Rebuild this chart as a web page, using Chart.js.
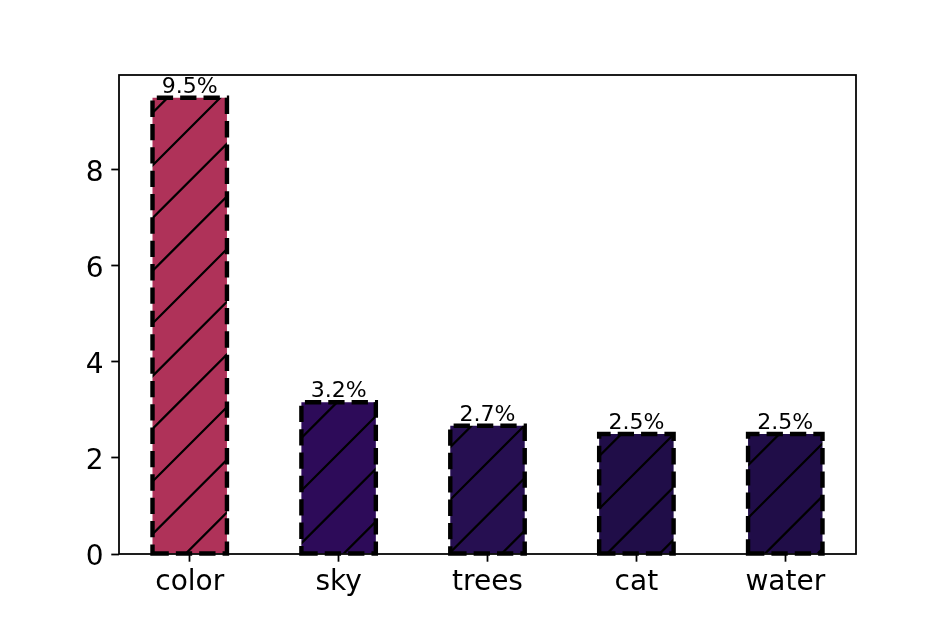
<!DOCTYPE html>
<html>
<head>
<meta charset="utf-8">
<script src="https://cdn.jsdelivr.net/npm/chart.js@4.4.0/dist/chart.umd.min.js"></script>
<style>
  html, body { margin: 0; padding: 0; background: #fff; }
  canvas { display: block; }
</style>
</head>
<body>
<canvas id="chart" width="952" height="634"></canvas>
<script>
// data
const categories = ["color", "sky", "trees", "cat", "water"];
const shares = [9.5, 3.16, 2.67, 2.5, 2.5];
const barColors = ["#af3259", "#2d0b59", "#260f51", "#200d48", "#200d48"];
const yTicks = [0, 2, 4, 6, 8];
const yLimits = [0, 9.975];
const xLimits = [-0.475, 4.475];

// figure was 6in wide, so this is the pixels-per-inch of the picture
const DPI = 952 / 6;
const pt = v => v * DPI / 72;
const FONT = '"DejaVu Sans", sans-serif';

// "/" hatch on top of the bar colour, anchored to the canvas like matplotlib does
function hatchPattern(color) {
  const size = Math.floor(DPI);
  const step = size / 3;
  const tile = document.createElement("canvas");
  tile.width = size;
  tile.height = size;
  const g = tile.getContext("2d");
  g.fillStyle = color;
  g.fillRect(0, 0, size, size);
  g.strokeStyle = "#000";
  g.lineWidth = pt(1);
  const phase = 634 % step;
  g.beginPath();
  for (let k = -1; k <= 7; k++) {
    const c = phase + k * step;
    g.moveTo(c + 10, -10);
    g.lineTo(c - size - 10, size + 10);
  }
  g.stroke();
  return g.createPattern(tile, "repeat");
}

// dashed bar edges, value labels and the axes frame
const barDecor = {
  id: "barDecor",
  afterDatasetsDraw(chart) {
    const ctx = chart.ctx;
    const meta = chart.getDatasetMeta(0);
    ctx.save();
    ctx.strokeStyle = "#000";
    ctx.lineWidth = pt(2);
    ctx.lineJoin = "miter";
    ctx.setLineDash([pt(7.4), pt(3.2)]);
    meta.data.forEach(bar => {
      const { x, y, base, width } = bar.getProps(["x", "y", "base", "width"], true);
      const l = x - width / 2, r = x + width / 2;
      ctx.beginPath();
      ctx.moveTo(l, base);
      ctx.lineTo(r, base);
      ctx.lineTo(r, y);
      ctx.lineTo(l, y);
      ctx.closePath();
      ctx.stroke();
    });
    ctx.setLineDash([]);

    ctx.fillStyle = "#000";
    ctx.font = pt(10) + "px " + FONT;
    ctx.textAlign = "center";
    ctx.textBaseline = "alphabetic";
    meta.data.forEach((bar, i) => {
      ctx.fillText(shares[i].toFixed(1) + "%", bar.x, bar.y - 5);
    });

    const a = chart.chartArea;
    ctx.lineWidth = pt(0.8);
    ctx.strokeRect(a.left, a.top, a.right - a.left, a.bottom - a.top);
    ctx.restore();
  }
};

new Chart(document.getElementById("chart"), {
  type: "bar",
  data: {
    datasets: [{
      data: shares.map((v, i) => ({ x: i, y: v })),
      backgroundColor: barColors.map(hatchPattern),
      borderWidth: 0,
      barPercentage: 0.5,
      categoryPercentage: 1.0
    }]
  },
  options: {
    responsive: false,
    devicePixelRatio: 1,
    animation: false,
    layout: { padding: { top: 75, right: 96, left: 0, bottom: 0 } },
    plugins: { legend: { display: false }, tooltip: { enabled: false } },
    scales: {
      x: {
        type: "linear",
        min: xLimits[0],
        max: xLimits[1],
        offset: false,
        afterBuildTicks: axis => { axis.ticks = categories.map((c, i) => ({ value: i })); },
        afterFit: axis => { axis.height = 80; },
        border: { display: false },
        grid: {
          offset: false,
          drawOnChartArea: false,
          drawTicks: true,
          tickLength: pt(3.5),
          tickWidth: pt(0.8),
          tickColor: "#000"
        },
        ticks: {
          autoSkip: false,
          maxRotation: 0,
          padding: 4.5,
          color: "#000",
          font: { family: FONT, size: 28 },
          callback: v => categories[v]
        }
      },
      y: {
        min: yLimits[0],
        max: yLimits[1],
        afterBuildTicks: axis => { axis.ticks = yTicks.map(v => ({ value: v })); },
        afterFit: axis => { axis.width = 119; },
        border: { display: false },
        grid: {
          drawOnChartArea: false,
          drawTicks: true,
          tickLength: pt(3.5),
          tickWidth: pt(0.8),
          tickColor: "#000"
        },
        ticks: {
          padding: pt(3.5),
          labelOffset: 3.5,
          color: "#000",
          font: { family: FONT, size: 28 },
          callback: v => String(v)
        }
      }
    }
  },
  plugins: [barDecor]
});
</script>
</body>
</html>
